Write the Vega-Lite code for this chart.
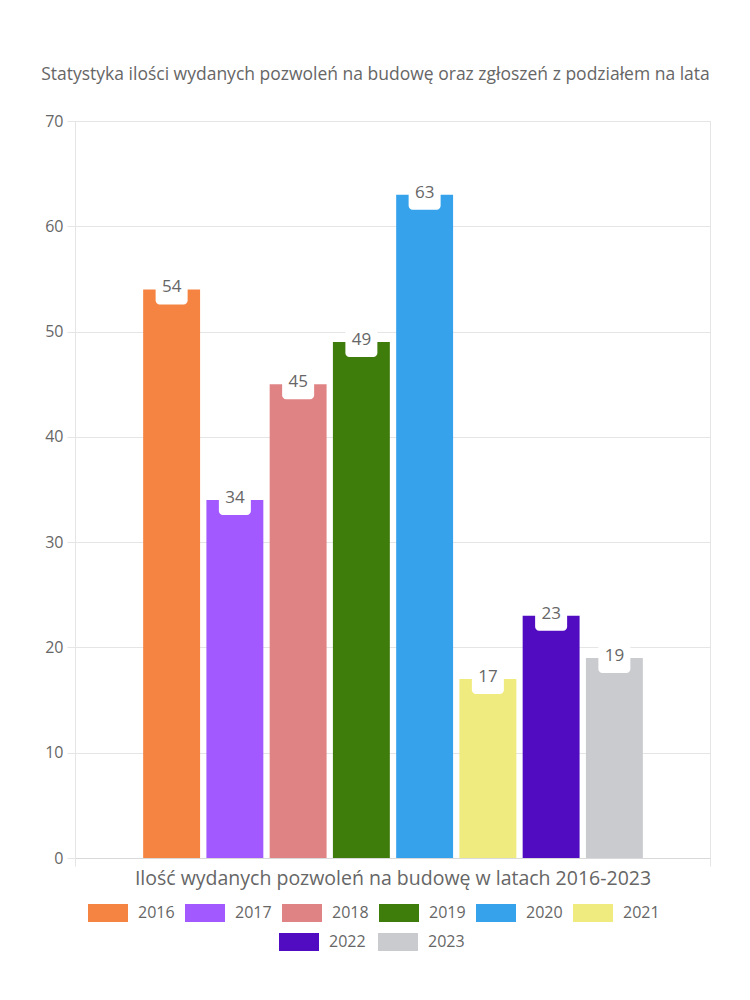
{
  "$schema": "https://vega.github.io/schema/vega-lite/v6.json",
  "width": 635,
  "height": 737,
  "autosize": "none",
  "padding": {"left": 75, "top": 121, "right": 40, "bottom": 142},
  "title": {"text": "Statystyka ilości wydanych pozwoleń na budowę oraz zgłoszeń z podziałem na lata", "font": "Open Sans", "fontSize": 17.5, "fontWeight": "normal", "color": "#666666", "anchor": "middle", "offset": 30, "dx": -17},
  "config": {
    "view": {"stroke": "#e5e5e5"},
    "font": "Open Sans",
    "axis": {"labelFont": "Open Sans", "labelColor": "#666666", "gridColor": "#e5e5e5", "tickColor": "#e5e5e5", "domainColor": "#d9d9d9"},
    "legend": {"labelFont": "Open Sans", "labelFontSize": 16, "labelColor": "#666666", "padding": 0}
  },
  "data": {"values": [
    {"kategoria": "Ilość wydanych pozwoleń na budowę w latach 2016-2023", "rok": "2016", "liczba": 54},
    {"kategoria": "Ilość wydanych pozwoleń na budowę w latach 2016-2023", "rok": "2017", "liczba": 34},
    {"kategoria": "Ilość wydanych pozwoleń na budowę w latach 2016-2023", "rok": "2018", "liczba": 45},
    {"kategoria": "Ilość wydanych pozwoleń na budowę w latach 2016-2023", "rok": "2019", "liczba": 49},
    {"kategoria": "Ilość wydanych pozwoleń na budowę w latach 2016-2023", "rok": "2020", "liczba": 63},
    {"kategoria": "Ilość wydanych pozwoleń na budowę w latach 2016-2023", "rok": "2021", "liczba": 17},
    {"kategoria": "Ilość wydanych pozwoleń na budowę w latach 2016-2023", "rok": "2022", "liczba": 23},
    {"kategoria": "Ilość wydanych pozwoleń na budowę w latach 2016-2023", "rok": "2023", "liczba": 19}
  ]},
  "encoding": {
    "x": {"field": "kategoria", "type": "nominal", "title": null,
      "scale": {"paddingInner": 0, "paddingOuter": 0},
      "axis": {"tickBand": "extent", "grid": true, "labelAngle": 0, "labelFontSize": 19.5, "tickSize": 8, "labelPadding": 3, "labelLimit": 700}},
    "xOffset": {"field": "rok", "type": "nominal", "scale": {"range": [65, 571], "paddingInner": 0.1, "paddingOuter": 0.05}},
    "y": {"field": "liczba", "type": "quantitative", "title": null,
      "scale": {"domain": [0, 70], "nice": false},
      "axis": {"values": [0, 10, 20, 30, 40, 50, 60, 70], "labelFontSize": 16, "tickSize": 8, "labelPadding": 4, "grid": true, "domain": true, "domainColor": "#e5e5e5"}}
  },
  "layer": [
    {
      "mark": {"type": "bar"},
      "encoding": {
        "color": {"field": "rok", "type": "nominal",
          "scale": {"domain": ["2016", "2017", "2018", "2019", "2020", "2021", "2022", "2023"],
            "range": ["#f58442", "#a259ff", "#e08384", "#3e7c0b", "#36a2eb", "#f0eb7e", "#510cc1", "#c9cbcf"]},
          "legend": {"title": null, "orient": "none", "legendX": 13, "legendY": 772, "direction": "horizontal", "columns": 6,
            "values": ["2016", "2017", "2018", "2019", "2020", "2021"],
            "symbolType": "M-1,-0.45H1V0.45H-1Z", "symbolSize": 1600, "symbolStrokeWidth": 0, "symbolOpacity": 1,
            "labelOffset": 10, "columnPadding": 10, "gridAlign": "all"}}
      }
    },
    {
      "mark": {"type": "point", "filled": true, "fill": "white", "opacity": 1, "strokeWidth": 0, "size": 1024,
        "shape": "M-0.75,-0.9375H0.75A0.25,0.25 0 0 1 1,-0.6875V0.6875A0.25,0.25 0 0 1 0.75,0.9375H-0.75A0.25,0.25 0 0 1 -1,0.6875V-0.6875A0.25,0.25 0 0 1 -0.75,-0.9375Z"}
    },
    {
      "mark": {"type": "text", "font": "Open Sans", "fontSize": 17, "color": "#666666", "baseline": "middle", "align": "center", "dy": -2},
      "encoding": {"text": {"field": "liczba", "type": "quantitative"}}
    },
    {
      "transform": [{"filter": {"field": "rok", "oneOf": ["2022", "2023"]}}],
      "mark": {"type": "point", "filled": true, "opacity": 0},
      "encoding": {
        "fill": {"field": "rok", "type": "nominal",
          "scale": {"domain": ["2022", "2023"], "range": ["#510cc1", "#c9cbcf"]},
          "legend": {"title": null, "orient": "none", "legendX": 204, "legendY": 801, "direction": "horizontal", "columns": 2,
            "symbolType": "M-1,-0.45H1V0.45H-1Z", "symbolSize": 1600, "symbolStrokeWidth": 0, "symbolOpacity": 1,
            "labelOffset": 10, "columnPadding": 12, "gridAlign": "all"}}
      }
    }
  ]
}
